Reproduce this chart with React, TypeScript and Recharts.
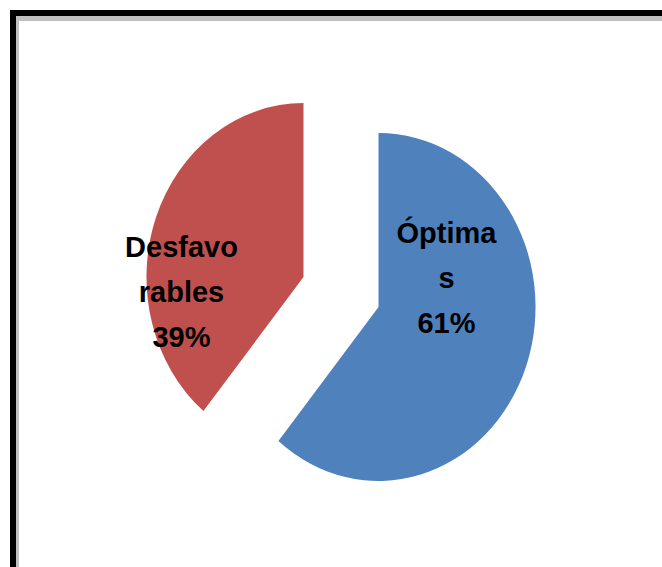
import React from 'react';
import { PieChart, Pie, Cell } from 'recharts';

const categories = ['Óptimas', 'Desfavorables'];
const values = [61, 39];
const colors = ['#4F81BD', '#C0504D'];
const labelLines = [['Óptima', 's'], ['Desfavo', 'rables']];

const data = categories.map((name, i) => ({ name, value: values[i] }));

// pie is drawn as an upright ellipse, like the Excel original
// (cx/cy are measured inside the chart's default 5px margin)
const CX = 336;
const CY = 287;
const RY = 174;
const RX = 157;
const EXPLODE = 0.254;
const LABEL_OFFSET = [
  [68, -19],
  [-122, 25]
];
const RAD = Math.PI / 180;

const apex = (cx: number, cy: number, r: number, mid: number) => {
  const rx = (r * RX) / RY;
  return {
    x: cx + EXPLODE * rx * Math.cos(-mid * RAD),
    y: cy + EXPLODE * r * Math.sin(-mid * RAD),
    rx
  };
};

const EllipseSector = (props: any) => {
  const { cx, cy, outerRadius, startAngle, endAngle, midAngle, fill } = props;
  const mid = midAngle ?? (startAngle + endAngle) / 2;
  const o = apex(cx, cy, outerRadius, mid);
  const sx = o.x + o.rx * Math.cos(-startAngle * RAD);
  const sy = o.y + outerRadius * Math.sin(-startAngle * RAD);
  const ex = o.x + o.rx * Math.cos(-endAngle * RAD);
  const ey = o.y + outerRadius * Math.sin(-endAngle * RAD);
  const large = Math.abs(endAngle - startAngle) > 180 ? 1 : 0;
  const d = `M${o.x},${o.y} L${sx},${sy} A${o.rx},${outerRadius} 0 ${large} 1 ${ex},${ey} Z`;
  return <path d={d} fill={fill} stroke="none" />;
};

const renderLabel = (props: any) => {
  const { cx, cy, outerRadius, midAngle, percent, name } = props;
  let i = categories.indexOf(name);
  if (i < 0) i = props.index ?? 0;
  const o = apex(cx, cy, outerRadius, midAngle);
  const x = o.x + LABEL_OFFSET[i][0];
  const y = o.y + LABEL_OFFSET[i][1];
  const lines = [...labelLines[i], `${Math.round(percent * 100)}%`];
  return (
    <text
      x={x}
      y={y}
      textAnchor="middle"
      fill="#000"
      fontFamily="'Liberation Sans', Arial, sans-serif"
      fontWeight="bold"
      fontSize={29}
    >
      {lines.map((t, k) => (
        <tspan key={k} x={x} y={y + (k - 1) * 45}>
          {t}
        </tspan>
      ))}
    </text>
  );
};

const App = () => {
  return (
    <div
      style={{
        position: 'fixed',
        left: 0,
        top: 0,
        width: 662,
        height: 567,
        background: '#fff',
        overflow: 'hidden'
      }}
    >
      <div
        style={{
          position: 'absolute',
          left: 10,
          top: 10,
          width: 700,
          height: 600,
          borderLeft: '6px solid #000',
          borderTop: '6px solid #000'
        }}
      >
        <div
          style={{
            width: '100%',
            height: '100%',
            borderLeft: '3px solid #c0c0c0',
            borderTop: '5px solid #c0c0c0'
          }}
        />
      </div>
      <div style={{ position: 'absolute', left: 0, top: 0 }}>
        <PieChart width={662} height={567}>
          <Pie
            data={data}
            dataKey="value"
            nameKey="name"
            cx={CX}
            cy={CY}
            outerRadius={RY}
            startAngle={90}
            endAngle={-270}
            stroke="none"
            shape={EllipseSector}
            label={renderLabel}
            labelLine={false}
            isAnimationActive={false}
          >
            {data.map((d, i) => (
              <Cell key={d.name} fill={colors[i]} />
            ))}
          </Pie>
        </PieChart>
      </div>
    </div>
  );
};

export default App;
